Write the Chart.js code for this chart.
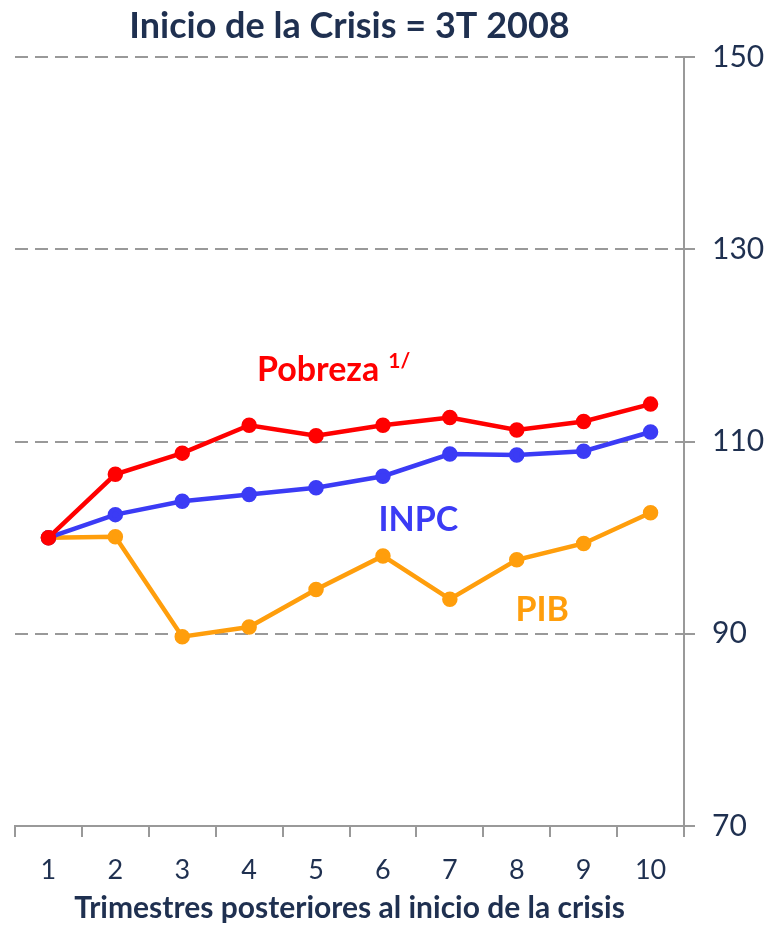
<!DOCTYPE html>
<html>
<head>
<meta charset="utf-8">
<script src="https://cdn.jsdelivr.net/npm/chart.js@4"></script>
<style>
  html, body { margin: 0; padding: 0; background: #fff; }
  #wrap { width: 766px; height: 926px; }
</style>
</head>
<body>
<div id="wrap"><canvas id="chart" width="766" height="926"></canvas></div>
<script>
const trimestres = ['1', '2', '3', '4', '5', '6', '7', '8', '9', '10'];
const pobreza = [100.0, 106.6, 108.8, 111.7, 110.6, 111.7, 112.5, 111.2, 112.1, 113.9];
const inpc = [100.0, 102.4, 103.8, 104.5, 105.2, 106.4, 108.7, 108.6, 109.0, 111.0];
const pib = [100.0, 100.1, 89.7, 90.7, 94.6, 98.1, 93.6, 97.7, 99.4, 102.6];
const yTicks = [70, 90, 110, 130, 150];

const navy = '#1f3050';
const gris = '#999999';

// etiquetas de serie dentro del area: [texto, indice x, valor y, color, superindice]
const etiquetas = [
    ['Pobreza', 4.03, 117.4, '#ff0000', '1/'],
    ['INPC', 5.53, 101.8, '#3b3bf5', ''],
    ['PIB', 7.38, 92.5, '#ff9e0c', '']
];

const labelPlugin = {
    id: 'seriesLabels',
    afterDatasetsDraw(chart) {
        const ctx = chart.ctx;
        const xs = chart.scales.x, ys = chart.scales.y;
        ctx.save();
        etiquetas.forEach(([txt, xi, yv, color, sup]) => {
            const x = xs.getPixelForValue(xi);
            const y = ys.getPixelForValue(yv);
            ctx.fillStyle = color;
            ctx.font = 'bold 34px Lato';
            ctx.textAlign = 'center';
            ctx.textBaseline = 'middle';
            ctx.fillText(txt, x, y);
            if (sup) {
                const w = ctx.measureText(txt).width;
                ctx.font = 'bold 21px Lato';
                ctx.textAlign = 'left';
                ctx.fillText(sup, x + w / 2 + 9, y - 9);
            }
        });
        ctx.restore();
    }
};

function serie(label, data, color) {
    return {
        label: label,
        data: data,
        borderColor: color,
        backgroundColor: color,
        pointBackgroundColor: color,
        pointBorderColor: color,
        borderWidth: 4.5,
        pointRadius: 5.5,
        tension: 0
    };
}

const ctx = document.getElementById('chart').getContext('2d');
new Chart(ctx, {
    type: 'line',
    data: {
        labels: trimestres,
        datasets: [
            serie('Pobreza', pobreza, '#ff0000'),
            serie('INPC', inpc, '#3b3bf5'),
            serie('PIB', pib, '#ff9e0c')
        ]
    },
    plugins: [labelPlugin],
    options: {
        responsive: false,
        animation: false,
        layout: { padding: { left: 15, right: 0, top: 0, bottom: 0 } },
        plugins: {
            legend: { display: false },
            tooltip: { enabled: false },
            title: {
                display: true,
                fullSize: false,
                text: 'Inicio de la Crisis = 3T 2008',
                color: navy,
                font: { family: 'Lato', size: 36, weight: 'bold' },
                padding: { top: 5, bottom: 9 }
            }
        },
        scales: {
            x: {
                offset: true,
                grid: { display: true, offset: true, drawOnChartArea: false, drawTicks: true, tickLength: 11, color: gris, lineWidth: 2 },
                border: { display: true, color: gris, width: 2 },
                ticks: { color: navy, font: { family: 'Lato', size: 27 }, padding: 17 },
                title: {
                    display: true,
                    text: 'Trimestres posteriores al inicio de la crisis',
                    color: navy,
                    font: { family: 'Lato', size: 30, weight: 'bold' },
                    padding: { top: 0, bottom: 0 }
                },
                afterFit(scale) { scale.height = 100; }
            },
            y: {
                position: 'right',
                min: 70,
                max: 150,
                afterBuildTicks(scale) { scale.ticks = yTicks.map(v => ({ value: v })); },
                grid: { color: gris, lineWidth: 2, tickLength: 11, drawTicks: true },
                border: { display: true, color: gris, width: 2, dash: [13, 7] },
                ticks: { color: navy, font: { family: 'Lato', size: 30 }, padding: 17 },
                afterFit(scale) { scale.width = 82; }
            }
        }
    }
});
</script>
</body>
</html>
